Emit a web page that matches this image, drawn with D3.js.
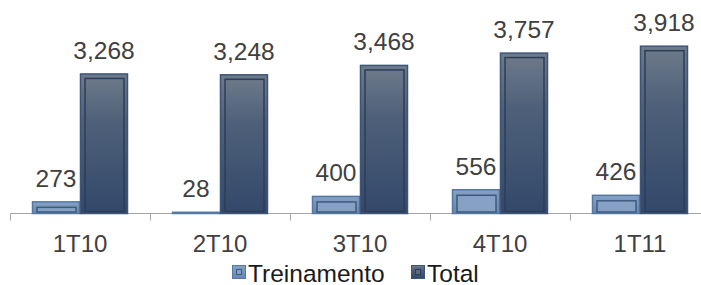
<!DOCTYPE html>
<html lang="pt">
<head>
    <meta charset="UTF-8">
    <title>Treinamento x Total</title>
    <script src="https://d3js.org/d3.v7.min.js"></script>
    <style>
        body { margin: 0; background: #fff; }
        svg { display: block; font-family: "Liberation Sans", Arial, sans-serif; }
    </style>
</head>
<body>
    <div id="chart"></div>
    <script>
        const categories = ["1T10", "2T10", "3T10", "4T10", "1T11"];
        const series = ["Treinamento", "Total"];
        const treinamento = [273, 28, 400, 556, 426];
        const total = [3268, 3248, 3468, 3757, 3918];

        const width = 701;
        const height = 285;
        const baseY = 213.5;

        const rows = categories.map((c, i) => ({
            cat: c,
            values: [
                {key: "Treinamento", value: treinamento[i]},
                {key: "Total", value: total[i]}
            ]
        }));

        const x = d3.scaleBand().domain(categories).range([10, 710]);
        const xs = d3.scaleBand().domain(series).range([22, 118]);
        const y = d3.scaleLinear().domain([0, 4000]).range([baseY, 42.7]);

        const svg = d3.select("#chart").append("svg")
            .attr("width", width)
            .attr("height", height)
            .attr("viewBox", [0, 0, width, height]);

        const defs = svg.append("defs");
        const gradT = defs.append("linearGradient").attr("id", "gT")
            .attr("x1", 0).attr("y1", 0).attr("x2", 0).attr("y2", 1);
        gradT.append("stop").attr("offset", 0).attr("stop-color", "#86a1c4");
        gradT.append("stop").attr("offset", 1).attr("stop-color", "#6787b0");
        const gradTot = defs.append("linearGradient").attr("id", "gTot")
            .attr("x1", 0).attr("y1", 0).attr("x2", 0).attr("y2", 1);
        gradTot.append("stop").attr("offset", 0).attr("stop-color", "#6e7b8b");
        gradTot.append("stop").attr("offset", 0.35).attr("stop-color", "#4e6079");
        gradTot.append("stop").attr("offset", 1).attr("stop-color", "#33486a");

        const style = {
            Treinamento: {fill: "url(#gT)", stroke: "#5679a3", inner: "#3f5a7e", innerFill: "#86a1c4"},
            Total: {fill: "url(#gTot)", stroke: "#3d5678", inner: "#2d3e57", innerFill: "none"}
        };

        // axis
        svg.append("line")
            .attr("x1", 10).attr("x2", width)
            .attr("y1", baseY).attr("y2", baseY)
            .attr("stroke", "#a6a6a6").attr("stroke-width", 1);
        svg.append("g").selectAll("line")
            .data(categories)
            .join("line")
            .attr("x1", d => x(d) + 0.5).attr("x2", d => x(d) + 0.5)
            .attr("y1", baseY).attr("y2", baseY + 7)
            .attr("stroke", "#a6a6a6");

        const group = svg.append("g").selectAll("g")
            .data(rows)
            .join("g")
            .attr("transform", d => `translate(${x(d.cat)},0)`);

        const bar = group.selectAll("g")
            .data(d => d.values)
            .join("g");

        bar.append("rect")
            .attr("x", d => xs(d.key) + 0.5)
            .attr("y", d => y(d.value))
            .attr("width", xs.bandwidth() - 1)
            .attr("height", d => Math.max(0, baseY - y(d.value)))
            .attr("fill", d => style[d.key].fill)
            .attr("stroke", d => style[d.key].stroke)
            .attr("stroke-width", 1.5);

        bar.filter(d => baseY - y(d.value) > 8)
            .append("rect")
            .attr("x", d => xs(d.key) + 5)
            .attr("y", d => d.key === "Total" ? y(d.value) + 4.5 : y(d.value) + 5.5)
            .attr("width", xs.bandwidth() - 9)
            .attr("height", d => Math.max(0, baseY - y(d.value) - (d.key === "Total" ? 6.5 : 7)))
            .attr("fill", d => style[d.key].innerFill)
            .attr("stroke", d => style[d.key].inner)
            .attr("stroke-width", 1.5);

        bar.append("text")
            .attr("x", d => xs(d.key) + xs.bandwidth() / 2)
            .attr("y", d => y(d.value) - 15)
            .attr("text-anchor", "middle")
            .attr("font-size", 24.5)
            .attr("fill", "#404040")
            .text(d => d3.format(",")(d.value));

        // category labels
        svg.append("g").selectAll("text")
            .data(categories)
            .join("text")
            .attr("x", d => x(d) + x.bandwidth() / 2)
            .attr("y", 252)
            .attr("text-anchor", "middle")
            .attr("font-size", 24)
            .attr("fill", "#404040")
            .text(d => d);

        // legend
        const legendX = [232, 411];
        const legend = svg.append("g").selectAll("g")
            .data(series)
            .join("g")
            .attr("transform", (d, i) => `translate(${legendX[i]},265)`);
        legend.append("rect")
            .attr("x", 0.5).attr("y", 0.5)
            .attr("width", 13).attr("height", 13)
            .attr("fill", d => style[d].fill)
            .attr("stroke", d => style[d].stroke);
        legend.append("rect")
            .attr("x", 4.5).attr("y", 4.5)
            .attr("width", 5).attr("height", 5)
            .attr("fill", d => d === "Total" ? "#5a6a80" : "#86a1c4")
            .attr("stroke", d => style[d].inner);
        legend.append("text")
            .attr("x", 16)
            .attr("y", 16.5)
            .attr("font-size", 24.5)
            .attr("fill", "#1a1a1a")
            .text(d => d);
    </script>
</body>
</html>
